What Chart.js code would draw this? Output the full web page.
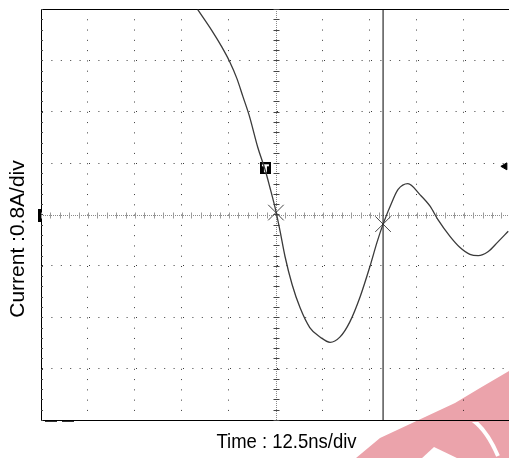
<!DOCTYPE html>
<html>
<head>
<meta charset="utf-8">
<script src="https://cdn.jsdelivr.net/npm/chart.js@4.4.1/dist/chart.umd.min.js"></script>
<style>
  body { margin: 0; background: #fff; }
  canvas { display: block; }
</style>
</head>
<body>
<canvas id="scope" width="509" height="458"></canvas>
<script>
// trace: time in ns (0 = trigger), current in A
const timeNs = [-20.8, -17.0, -14.4, -12.3, -10.4, -8.8, -7.1, -4.8, -2.9, -1.6,
  0, 1.1, 2.4, 4.3, 6.4, 9.0, 11.8, 14.4, 17.0, 19.6,
  22.4, 25.0, 26.9, 28.5, 30.9, 32.5, 35.1, 38.3, 41.0, 43.1,
  46.3, 48.9, 51.6, 53.8, 56.4, 59.0, 61.8];
const currentA = [3.19, 2.86, 2.61, 2.38, 2.12, 1.84, 1.54, 1.04, 0.70, 0.42,
  0.05, -0.26, -0.65, -1.09, -1.45, -1.76, -1.91, -1.99, -1.91, -1.68,
  -1.28, -0.81, -0.43, -0.15, 0.20, 0.39, 0.48, 0.31, 0.13, -0.08,
  -0.34, -0.51, -0.62, -0.64, -0.58, -0.43, -0.26];

const xTicks = [-62.5, -50, -37.5, -25, -12.5, 0, 12.5, 25, 37.5, 50, 62.5];
const yTicks = [-3.2, -2.4, -1.6, -0.8, 0, 0.8, 1.6, 2.4, 3.2];
const cursorTimes = [0, 28.5];
const cursorCurrents = [0.03, -0.15];
const triggerTime = -2.8;
const triggerLevel = 0.72;

const xLabel = 'Time : 12.5ns/div';
const yLabel = 'Current :0.8A/div';

const trace = timeNs.map((t, i) => ({ x: t, y: currentA[i] }));
const crosses = cursorTimes.map((t, i) => ({ x: t, y: cursorCurrents[i] }));

// little black "T" box for the trigger point
const tBox = document.createElement('canvas');
tBox.width = 11; tBox.height = 12;
const tc = tBox.getContext('2d');
tc.fillStyle = '#000';
tc.fillRect(0, 0, 11, 12);
tc.fillStyle = '#fff';
tc.fillRect(2, 2, 7, 2);
tc.fillRect(4, 2, 3, 8);

const line = (ctx, x1, y1, x2, y2) => {
  ctx.beginPath();
  ctx.moveTo(x1, y1);
  ctx.lineTo(x2, y2);
  ctx.stroke();
};

const scopeDecor = {
  id: 'scopeDecor',
  beforeDatasetsDraw(chart) {
    const { ctx, chartArea: a, scales: { x, y } } = chart;
    const x0 = Math.round(x.getPixelForValue(0)) + 0.5;
    const y0 = Math.round(y.getPixelForValue(0)) + 0.5;
    ctx.save();
    ctx.lineWidth = 1;

    // top frame line
    ctx.strokeStyle = '#000';
    line(ctx, a.left, a.top + 0.5, a.right, a.top + 0.5);

    // centre axes, finely dotted
    ctx.strokeStyle = '#8a8a8a';
    ctx.setLineDash([1, 1]);
    line(ctx, a.left, y0, a.right, y0);
    line(ctx, x0, a.top, x0, a.bottom);
    ctx.setLineDash([]);

    // minor ticks: 5 per division
    ctx.strokeStyle = '#9a9a9a';
    for (let v = xTicks[0]; v <= x.max; v += 2.5) {
      const px = Math.round(x.getPixelForValue(v)) + 0.5;
      line(ctx, px, y0 - 3, px, y0 + 3);
    }
    for (let v = yTicks[0]; v <= y.max + 0.01; v += 0.16) {
      const py = Math.round(y.getPixelForValue(v)) + 0.5;
      ctx.strokeStyle = '#444';
      line(ctx, x0 - 3, py, x0 + 3, py);
      line(ctx, a.left, py, a.left + 2, py);
    }
    ctx.restore();
  },
  afterDraw(chart) {
    const { ctx, chartArea: a, scales: { y } } = chart;
    const y0 = y.getPixelForValue(0);
    ctx.save();

    // ground marker on the left edge
    ctx.fillStyle = '#000';
    ctx.fillRect(a.left - 3, Math.round(y0) - 6, 3, 13);

    // small marks under the frame
    ctx.strokeStyle = '#333';
    ctx.lineWidth = 1;
    ctx.setLineDash([12, 5]);
    line(ctx, a.left + 4, a.bottom + 1.5, a.left + 33, a.bottom + 1.5);
    ctx.setLineDash([]);

    // watermark corner
    ctx.globalCompositeOperation = 'multiply';
    ctx.fillStyle = '#eba3ab';
    ctx.beginPath();
    ctx.moveTo(356, 458);
    ctx.lineTo(380, 438);
    ctx.lineTo(455, 403);
    ctx.lineTo(480, 388);
    ctx.lineTo(509, 371);
    ctx.lineTo(509, 458);
    ctx.closePath();
    ctx.fill();
    ctx.globalCompositeOperation = 'source-over';
    ctx.beginPath();
    ctx.rect(0, a.bottom + 2, 509, 60);
    ctx.clip();
    ctx.strokeStyle = '#fff';
    ctx.lineWidth = 4;
    ctx.beginPath();
    ctx.moveTo(434, 417);
    ctx.quadraticCurveTo(474, 400, 498, 456);
    ctx.stroke();
    ctx.fillStyle = '#fff';
    ctx.beginPath();
    ctx.moveTo(421, 459);
    ctx.lineTo(434, 447);
    ctx.lineTo(459, 459);
    ctx.closePath();
    ctx.fill();
    ctx.restore();

    // axis captions
    ctx.save();
    ctx.fillStyle = '#000';
    ctx.font = '21px "Liberation Sans", Arial, sans-serif';
    ctx.textAlign = 'center';
    ctx.textBaseline = 'middle';
    ctx.fillText(xLabel, 286.5, 442, 140);
    ctx.translate(18, 239);
    ctx.rotate(-Math.PI / 2);
    ctx.fillText(yLabel, 0, 0, 163);
    ctx.restore();
  }
};

const dotGrid = (dash) => ({
  grid: {
    drawTicks: false,
    lineWidth: 1,
    color: (c) => (c.tick && c.tick.value === 0 ? 'rgba(0,0,0,0)' : '#3c3c3c')
  },
  border: { display: true, color: '#000', width: 1, dash: dash }
});

new Chart(document.getElementById('scope'), {
  type: 'line',
  data: {
    datasets: [
      {
        data: trace,
        borderColor: '#3a3a3a',
        borderWidth: 1.3,
        pointRadius: 0,
        cubicInterpolationMode: 'monotone',
        fill: false
      },
      {
        data: [{ x: cursorTimes[1], y: yTicks[0] }, { x: cursorTimes[1], y: yTicks[yTicks.length - 1] }],
        borderColor: '#000',
        borderWidth: 1,
        pointRadius: 0
      },
      {
        type: 'scatter',
        data: crosses,
        pointStyle: 'crossRot',
        radius: 11,
        borderColor: '#444',
        borderWidth: 1
      },
      {
        type: 'scatter',
        data: [{ x: triggerTime, y: triggerLevel }],
        pointStyle: tBox
      },
      {
        type: 'scatter',
        data: [{ x: 60.9, y: triggerLevel + 0.03 }],
        pointStyle: 'triangle',
        rotation: 270,
        radius: 4,
        backgroundColor: '#000',
        borderColor: '#000',
        borderWidth: 1
      }
    ]
  },
  options: {
    responsive: false,
    animation: false,
    layout: { autoPadding: false, padding: { top: 9, left: 0, right: 0, bottom: 0 } },
    plugins: { legend: { display: false }, tooltip: { enabled: false } },
    scales: {
      x: {
        type: 'linear',
        min: -62.5,
        max: 62,
        ticks: { display: false },
        afterBuildTicks: (s) => { s.ticks = xTicks.filter(v => v <= s.max).map(v => ({ value: v })); },
        afterFit: (s) => { s.height = 38; },
        ...dotGrid([1, 9.28])
      },
      y: {
        type: 'linear',
        min: -3.2,
        max: 3.2,
        ticks: { display: false },
        afterBuildTicks: (s) => { s.ticks = yTicks.map(v => ({ value: v })); },
        afterFit: (s) => { s.width = 41; },
        ...dotGrid([1, 8.4])
      }
    }
  },
  plugins: [scopeDecor]
});
</script>
</body>
</html>
